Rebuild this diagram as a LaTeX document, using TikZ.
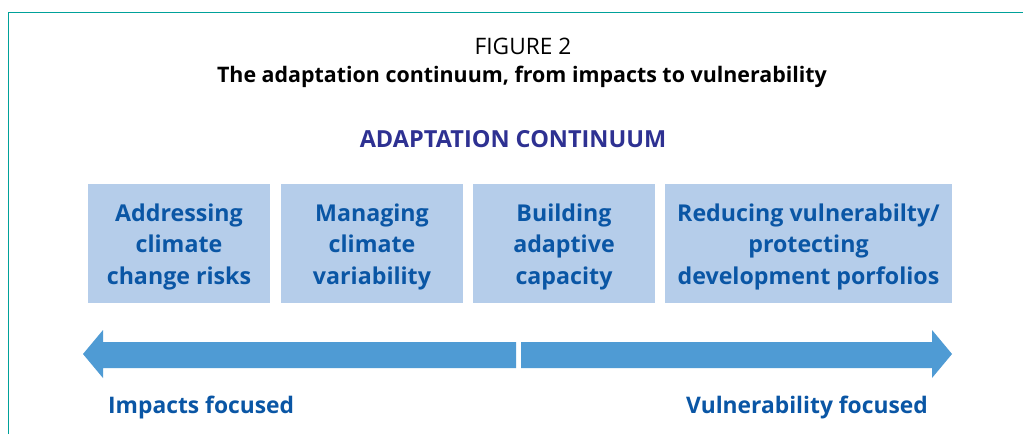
\documentclass[tikz,border=0pt]{standalone}
\usepackage{fontspec}
\setmainfont{Open Sans}
\definecolor{frame}{HTML}{00A19A}
\definecolor{boxfill}{HTML}{B5CDEA}
\definecolor{boxtext}{HTML}{0A56A5}
\definecolor{arrowc}{HTML}{4F9BD4}
\definecolor{titlec}{HTML}{2E3192}
\tikzset{
  stage/.style={fill=boxfill, draw=none, minimum height=119pt, inner sep=0pt,
    text=boxtext, align=center, font=\fontsize{23.2}{31.5}\selectfont\bfseries},
  stagetext/.style={text=boxtext, align=center, inner sep=0pt,
    font=\fontsize{23.2}{31.5}\selectfont\bfseries},
  endlabel/.style={text=boxtext, inner sep=0pt, font=\fontsize{22.8}{28}\selectfont\bfseries},
  bigarrow/.style={fill=arrowc, draw=none}
}
\begin{document}
\begin{tikzpicture}[x=1pt,y=-1pt]
\useasboundingbox (0,0) rectangle (1023,434);
\fill[white] (0,0) rectangle (1023,434);
% frame
\draw[frame, line width=1.6pt] (8.5,434) -- (8.5,12.5) -- (1023,12.5);
% titles
\node[anchor=base, inner sep=0pt, font=\fontsize{22.7}{26}\selectfont] (fig) at (523,54) {FIGURE 2};
\node[anchor=base, inner sep=0pt, font=\fontsize{21.4}{25}\selectfont\bfseries] (cap) at (522,82) {The adaptation continuum, from impacts to vulnerability};
\node[anchor=base, inner sep=0pt, text=titlec, font=\fontsize{23.5}{28}\selectfont\bfseries] (cont) at (513,147.5) {ADAPTATION CONTINUUM};
% boxes
\node[stage, minimum width=182pt] (b1) at (179,243.5) {};
\node[stage, minimum width=182pt] (b2) at (372,243.5) {};
\node[stage, minimum width=182pt] (b3) at (564,243.5) {};
\node[stage, minimum width=287pt] (b4) at (808.5,243.5) {};
\node[stagetext, yshift=-3pt] (t1) at (b1.center) {Addressing\\climate\\change risks};
\node[stagetext, yshift=-3pt] (t2) at (b2.center) {Managing\\climate\\variability};
\node[stagetext, yshift=-3pt] (t3) at (b3.center) {Building\\adaptive\\capacity};
\node[stagetext, yshift=-3pt] (t4) at (b4.center) {Reducing vulnerabilty/\\protecting\\development porfolios};
% arrows
\fill[bigarrow] (516,342) -- (103,342) -- (103,330) -- (83,354) -- (103,378) -- (103,368) -- (516,368) -- cycle;
\fill[bigarrow] (521,342) -- (932,342) -- (932,330) -- (952,354) -- (932,378) -- (932,368) -- (521,368) -- cycle;
% end labels
\node[endlabel, anchor=base west] (imp) at (108,413) {Impacts focused};
\node[endlabel, anchor=base east] (vul) at (928,413) {Vulnerability focused};
\end{tikzpicture}
\end{document}
